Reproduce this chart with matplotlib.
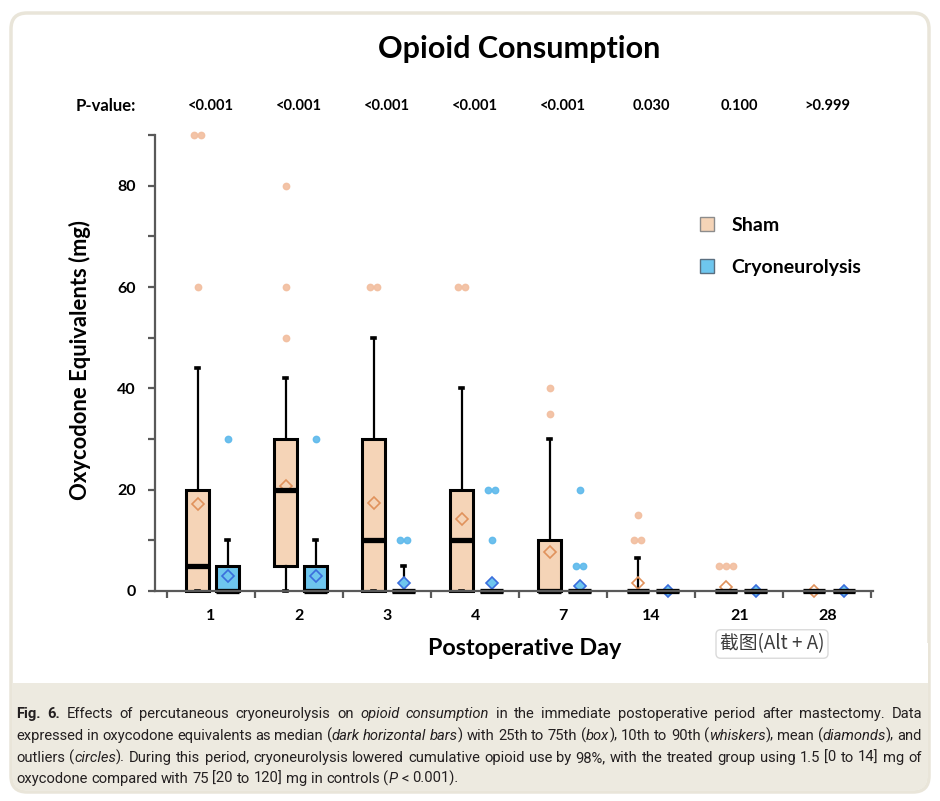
import matplotlib
matplotlib.use("Agg")
import matplotlib.pyplot as plt
import numpy as np
from matplotlib.patches import Patch, FancyBboxPatch, Rectangle
from matplotlib.transforms import IdentityTransform

days = ["1", "2", "3", "4", "7", "14", "21", "28"]
p_values = ["<0.001", "<0.001", "<0.001", "<0.001", "<0.001", "0.030", "0.100", ">0.999"]

# sham: 25th, median, 75th, 10th, 90th percentile, mean, outliers
sham_q1 = [0, 5, 0, 0, 0, 0, 0, 0]
sham_med = [5, 20, 10, 10, 0, 0, 0, 0]
sham_q3 = [20, 30, 30, 20, 10, 0, 0, 0]
sham_lo = [0, 0, 0, 0, 0, 0, 0, 0]
sham_hi = [44, 42, 50, 40, 30, 6.5, 0, 0]
sham_mean = [17.2, 20.8, 17.4, 14.2, 7.7, 1.6, 0.8, 0]
sham_out = [[60, 90, 90], [50, 60, 80], [60, 60], [60, 60], [35, 40], [10, 10, 15], [5, 5, 5], []]

# cryoneurolysis
cryo_q1 = [0, 0, 0, 0, 0, 0, 0, 0]
cryo_med = [0, 0, 0, 0, 0, 0, 0, 0]
cryo_q3 = [5, 5, 0, 0, 0, 0, 0, 0]
cryo_lo = [0, 0, 0, 0, 0, 0, 0, 0]
cryo_hi = [10, 10, 5, 0, 0, 0, 0, 0]
cryo_mean = [3.0, 2.9, 1.5, 1.6, 1.0, 0, 0, 0]
cryo_out = [[30], [30], [10, 10], [10, 20, 20], [5, 5, 20], [], [], []]

caption_lines = [
    "#Fig. 6.# Effects of percutaneous cryoneurolysis on *opioid consumption* in the immediate postoperative period after mastectomy. Data",
    "expressed in oxycodone equivalents as median (*dark horizontal bars*) with 25th to 75th (*box*), 10th to 90th (*whiskers*), mean (*diamonds*), and",
    "outliers (*circles*). During this period, cryoneurolysis lowered cumulative opioid use by 98%, with the treated group using 1.5 [0 to 14] mg of",
    "oxycodone compared with 75 [20 to 120] mg in controls (*P* < 0.001).",
]

sham_face = "#F5D4B7"
cryo_face = "#6EC6EE"
sham_dot = "#F2BE9F"
cryo_dot = "#5DB9EC"
axis_c = "#595959"

plt.rcParams["font.family"] = ["Lato", "DejaVu Sans"]
plt.rcParams["font.weight"] = "bold"

W, H = 940, 801
fig = plt.figure(figsize=(9.4, 8.01), dpi=100)

# panel frame and caption band (pixel coords)
idt = IdentityTransform()
fig.add_artist(FancyBboxPatch((11, H - 792), 918, 779, boxstyle="round,pad=0,rounding_size=16",
                              transform=idt, fc="white", ec="#E9E5D9", lw=2.5, zorder=-10))
fig.add_artist(FancyBboxPatch((12.5, H - 790.5), 915, 140, boxstyle="round,pad=0,rounding_size=14",
                              transform=idt, fc="#EDEAE0", ec="none", zorder=-9))
fig.add_artist(Rectangle((12.5, H - 683), 915, 40, transform=idt, fc="white", ec="none", zorder=-8))

ax = fig.add_axes([155 / W, 1 - 591 / H, 718 / W, 456 / H])
ax.patch.set_visible(False)

x = np.arange(len(days))


def make_stats(q1, med, q3, lo, hi, mean):
    return [dict(q1=a, med=b, q3=c, whislo=d, whishi=e, mean=f, fliers=[])
            for a, b, c, d, e, f in zip(q1, med, q3, lo, hi, mean)]


def draw_group(stats, pos, face, mean_ec, mean_fc):
    ax.bxp(stats, positions=pos, widths=0.26, patch_artist=True, showmeans=True,
           showfliers=False, capwidths=0.035,
           boxprops=dict(facecolor=face, edgecolor="black", linewidth=2.2),
           medianprops=dict(color="black", linewidth=3.8, solid_capstyle="butt", zorder=2.2),
           whiskerprops=dict(color="black", linewidth=1.6),
           capprops=dict(color="black", linewidth=2.6),
           meanprops=dict(marker="D", markerfacecolor=mean_fc, markeredgecolor=mean_ec,
                          markersize=6.5, markeredgewidth=1.2, zorder=2.1))


def draw_fliers(pos, outs, color):
    for p, vals in zip(pos, outs):
        for v in sorted(set(vals)):
            n = vals.count(v)
            xs = p + (np.arange(n) - (n - 1) / 2) * 0.08
            ax.plot(xs, [v] * n, "o", ms=4.6, mfc=color, mec=color, alpha=0.9,
                    clip_on=False, zorder=5)


sham_pos = x - 0.15
cryo_pos = x + 0.19
draw_group(make_stats(sham_q1, sham_med, sham_q3, sham_lo, sham_hi, sham_mean),
           sham_pos, sham_face, "#E0925C", "none")
draw_group(make_stats(cryo_q1, cryo_med, cryo_q3, cryo_lo, cryo_hi, cryo_mean),
           cryo_pos, cryo_face, "#3A6EDC", cryo_face)
draw_fliers(sham_pos, sham_out, sham_dot)
draw_fliers(cryo_pos, cryo_out, cryo_dot)

for art in ax.get_children():
    try:
        art.set_clip_on(False)
    except Exception:
        pass

ax.set_xlim(-0.636, 7.52)
ax.set_ylim(0, 90)
for s in ["top", "right"]:
    ax.spines[s].set_visible(False)
for s in ["left", "bottom"]:
    ax.spines[s].set_color(axis_c)
    ax.spines[s].set_linewidth(1.6)

ax.set_xticks(np.arange(-0.5, 8, 1))
ax.set_xticklabels([])
ax.set_xticks(x, labels=days, minor=True)
ax.tick_params(axis="x", which="major", direction="out", length=5, width=1.6, color=axis_c)
ax.tick_params(axis="x", which="minor", length=0, pad=13, labelsize=11.5)
ax.set_yticks([0, 20, 40, 60, 80])
ax.set_yticks([10, 30, 50, 70, 90], minor=True)
ax.tick_params(axis="y", which="both", direction="out", length=5, width=1.6, color=axis_c)
ax.tick_params(axis="y", which="major", pad=9, labelsize=11.5)

ax.set_ylabel("Oxycodone Equivalents (mg)", fontsize=15.8, fontweight="bold")
ax.yaxis.set_label_coords((91 - 155) / 718, 0.507)
ax.set_xlabel("Postoperative Day", fontsize=16.8, fontweight="bold")
ax.xaxis.set_label_coords((525 - 155) / 718, (591 - 638) / 456)

# p-values row
trans = ax.get_xaxis_transform()
yp = (591 - 106) / 456
ax.text(-1.19, yp, "P-value:", transform=trans, ha="center", va="center",
        fontsize=12, fontweight="bold", clip_on=False)
for xi, p in zip(x, p_values):
    ax.text(xi, yp, p, transform=trans, ha="center", va="center",
            fontsize=10.5, fontweight="bold", clip_on=False)

fig.text(519.5 / W, 1 - 49 / H, "Opioid Consumption", ha="center", va="center",
         fontsize=22, fontweight="bold")

handles = [Patch(facecolor=sham_face, edgecolor="#8C8C8C", lw=1),
           Patch(facecolor=cryo_face, edgecolor="#5A6F80", lw=1)]
ax.legend(handles, ["Sham", "Cryoneurolysis"], loc="upper left",
          bbox_to_anchor=(700 / W, 1 - 217 / H), bbox_transform=fig.transFigure,
          frameon=False, handlelength=0.7, handleheight=0.7, handletextpad=0.9,
          labelspacing=1.29, borderpad=0, borderaxespad=0,
          prop=dict(family="Lato", weight="bold", size=14))

# screenshot tooltip
fig.text(772 / W, 1 - 644 / H, "截图(Alt + A)", ha="center", va="center", fontsize=13.5,
         fontweight="normal", color="#3C3C3C", family=["Noto Sans CJK SC", "DejaVu Sans"],
         bbox=dict(boxstyle="round,pad=0.2,rounding_size=0.25", fc="white", ec="#DADADA", lw=1))

# caption, justified word by word
cap_family = "Roboto"
renderer = fig.canvas.get_renderer()
cap_size = 11.5


def text_width(s, bold, italic, size):
    t = fig.text(0, 0, s, fontsize=size, family=cap_family,
                 weight="bold" if bold else "normal", style="italic" if italic else "normal")
    w = t.get_window_extent(renderer).width
    t.remove()
    return w


def parse_words(line):
    words, cur, buf = [], [], ""
    bold = italic = False
    for ch in line + " ":
        if ch in "#* ":
            if buf:
                cur.append((buf, bold, italic))
                buf = ""
            if ch == "#":
                bold = not bold
            elif ch == "*":
                italic = not italic
            elif cur:
                words.append(cur)
                cur = []
        else:
            buf += ch
    return words


x_left, x_right = 16, 922
parsed = [parse_words(l) for l in caption_lines]

# shrink the caption size if the font is too wide for the panel
space_w = text_width("a a", False, False, cap_size) - text_width("aa", False, False, cap_size)
natural = []
for words in parsed[:-1]:
    tot = sum(text_width(*c, cap_size) for w in words for c in w)
    natural.append(tot + space_w * 0.85 * (len(words) - 1))
if max(natural) > x_right - x_left:
    cap_size = cap_size * (x_right - x_left) / max(natural)
space_w = text_width("a a", False, False, cap_size) - text_width("aa", False, False, cap_size)

baselines = [718, 740, 762, 783]
for i, words in enumerate(parsed):
    widths = [[text_width(*c, cap_size) for c in w] for w in words]
    total = sum(sum(w) for w in widths)
    if i < len(parsed) - 1:
        gap = (x_right - x_left - total) / (len(words) - 1)
    else:
        gap = space_w
    xp = x_left
    for w, ws in zip(words, widths):
        for (s, b, it), cw in zip(w, ws):
            fig.text(xp / W, 1 - baselines[i] / H, s, ha="left", va="baseline",
                     fontsize=cap_size, family=cap_family, color="#231F20",
                     weight="bold" if b else "normal", style="italic" if it else "normal")
            xp += cw
        xp += gap

fig.savefig("out.png", dpi=100)
